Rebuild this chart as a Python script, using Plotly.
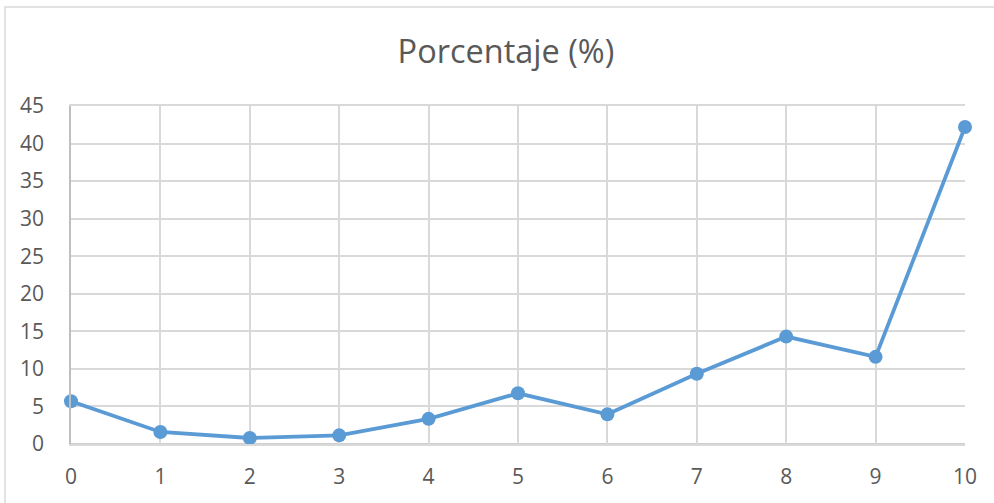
import plotly.graph_objects as go

categories = [0, 1, 2, 3, 4, 5, 6, 7, 8, 9, 10]
porcentaje = [5.7, 1.6, 0.8, 1.15, 3.35, 6.75, 3.95, 9.35, 14.3, 11.6, 42.2]
y_ticks = [0, 5, 10, 15, 20, 25, 30, 35, 40, 45]

font_family = "Open Sans, sans-serif"
text_color = "#595959"
grid_color = "#d9d9d9"

fig = go.Figure()
fig.add_trace(go.Scatter(
    x=categories,
    y=porcentaje,
    mode="lines+markers",
    line=dict(color="#5b9bd5", width=3.8),
    marker=dict(color="#5b9bd5", size=14),
    cliponaxis=False,
    showlegend=False,
))

fig.update_layout(
    width=994,
    height=503,
    margin=dict(l=71, r=29, t=106, b=59),
    paper_bgcolor="white",
    plot_bgcolor="white",
    title=dict(
        text="Porcentaje (%)",
        x=0.509,
        xanchor="center",
        y=0.897,
        yanchor="middle",
        font=dict(family=font_family, size=32.5, color=text_color),
    ),
    font=dict(family=font_family, color=text_color, size=21),
    xaxis=dict(
        range=[0, 10],
        tickmode="array",
        tickvals=categories,
        ticktext=[str(c) for c in categories],
        showgrid=True,
        gridcolor=grid_color,
        gridwidth=1.5,
        zeroline=False,
        showline=True,
        linecolor=grid_color,
        linewidth=1.5,
        mirror=True,
        ticks="",
        ticklabelstandoff=13,
        tickfont=dict(size=21, color=text_color),
    ),
    yaxis=dict(
        range=[0, 45],
        tickmode="array",
        tickvals=y_ticks,
        showgrid=True,
        gridcolor=grid_color,
        gridwidth=1.5,
        zeroline=False,
        showline=True,
        linecolor="#bfbfbf",
        linewidth=1.5,
        ticks="",
        ticklabelstandoff=21,
        tickfont=dict(size=21, color=text_color),
    ),
    shapes=[
        # outer chart frame
        dict(
            type="rect",
            xref="paper", yref="paper",
            x0=-0.0738, x1=1.1, y0=-0.3, y1=1.293,
            line=dict(color=grid_color, width=1.5),
            fillcolor="rgba(0,0,0,0)",
            layer="below",
        ),
        # category axis baseline
        dict(
            type="line",
            xref="paper", yref="paper",
            x0=0, x1=1, y0=0, y1=0,
            line=dict(color="#bfbfbf", width=1.5),
            layer="below",
        ),
    ],
)

fig.write_html("out.html")
